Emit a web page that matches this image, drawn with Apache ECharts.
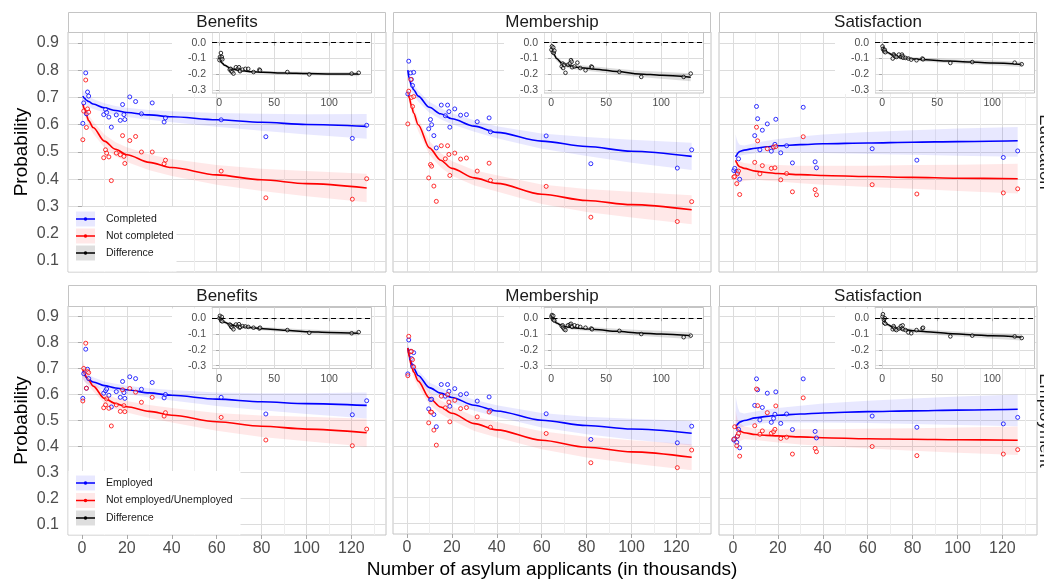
<!DOCTYPE html>
<html><head><meta charset="utf-8">
<script src="https://cdn.jsdelivr.net/npm/echarts@6/dist/echarts.min.js"></script>
<style>html,body{margin:0;padding:0;background:#fff}#main{width:1044px;height:580px}</style>
</head><body><div id="main"></div>
<script>
// ---------- labels / ticks ----------
const OUTCOMES = ['Benefits', 'Membership', 'Satisfaction'];
const ROW_LABELS = ['Education', 'Employment'];
const EDU_GROUPS = ['Completed', 'Not completed'];
const EMP_GROUPS = ['Employed', 'Not employed/Unemployed'];
const DIFF_NAME = 'Difference';
const X_TITLE = 'Number of asylum applicants (in thousands)';
const Y_TITLE = 'Probability';
const X_TICKS = [0, 20, 40, 60, 80, 100, 120];
const X_MINOR = [10, 30, 50, 70, 90, 110, 130];
const Y_TICKS = [0.1, 0.2, 0.3, 0.4, 0.5, 0.6, 0.7, 0.8, 0.9];
const INSET_X_TICKS = [0, 50, 100];
const INSET_X_MINOR = [25, 75, 125];
const INSET_Y_TICKS = [0, -0.1, -0.2, -0.3];

// ---------- x values ----------
const X_POINTS = [0.4, 0.8, 1.7, 2.0, 2.5, 3.0, 9.7, 10.5, 11.0, 12.0, 13.1, 15.3, 17.1, 18.1, 18.7, 19.1, 21.3, 23.9, 26.5, 31.3, 36.6, 37.2, 62.0, 81.9, 120.4, 126.8];
const X_FIT = [0.4, 1, 2, 3, 5, 10, 15, 20, 30, 40, 60, 80, 100, 126.8];
const X_FIT_SAT = [1.2, 1.6, 2.2, 3, 5, 10, 15, 20, 30, 40, 60, 80, 100, 126.8];

// ---------- Education / Benefits ----------
const eduBenCompPts = [0.605, 0.68, 0.79, 0.64, 0.72, 0.705, 0.637, 0.656, 0.645, 0.628, 0.591, 0.636, 0.616, 0.674, 0.637, 0.619, 0.702, 0.685, 0.64, 0.68, 0.61, 0.625, 0.618, 0.556, 0.55, 0.598];
const eduBenNotPts = [0.545, 0.65, 0.764, 0.59, 0.658, 0.646, 0.479, 0.508, 0.496, 0.482, 0.395, 0.496, 0.49, 0.56, 0.484, 0.458, 0.542, 0.557, 0.5, 0.5, 0.457, 0.47, 0.43, 0.332, 0.327, 0.402];
const eduBenDiffPts = [-0.11, -0.09, -0.065, -0.1, -0.09, -0.105, -0.17, -0.165, -0.18, -0.185, -0.195, -0.155, -0.165, -0.155, -0.175, -0.18, -0.17, -0.165, -0.165, -0.185, -0.17, -0.175, -0.185, -0.2, -0.195, -0.19];
const eduBenCompFit = [0.705, 0.698, 0.69, 0.685, 0.676, 0.662, 0.652, 0.645, 0.636, 0.629, 0.618, 0.609, 0.601, 0.594];
const eduBenCompLo = [0.68, 0.676, 0.67, 0.666, 0.658, 0.645, 0.635, 0.628, 0.618, 0.609, 0.593, 0.578, 0.564, 0.549];
const eduBenCompHi = [0.73, 0.72, 0.71, 0.704, 0.694, 0.679, 0.669, 0.662, 0.654, 0.649, 0.643, 0.64, 0.638, 0.639];
const eduBenNotFit = [0.676, 0.66, 0.635, 0.615, 0.59, 0.54, 0.51, 0.49, 0.462, 0.443, 0.416, 0.398, 0.384, 0.368];
const eduBenNotLo = [0.656, 0.64, 0.615, 0.594, 0.568, 0.516, 0.484, 0.463, 0.433, 0.412, 0.38, 0.357, 0.338, 0.316];
const eduBenNotHi = [0.696, 0.68, 0.655, 0.636, 0.612, 0.564, 0.536, 0.517, 0.491, 0.474, 0.452, 0.439, 0.43, 0.42];
const eduBenDiffFit = [-0.11, -0.115, -0.122, -0.13, -0.143, -0.16, -0.17, -0.176, -0.183, -0.187, -0.192, -0.195, -0.197, -0.198];
const eduBenDiffLo = [-0.122, -0.126, -0.132, -0.14, -0.152, -0.169, -0.179, -0.185, -0.192, -0.196, -0.202, -0.206, -0.209, -0.211];
const eduBenDiffHi = [-0.098, -0.104, -0.112, -0.12, -0.134, -0.151, -0.161, -0.167, -0.174, -0.178, -0.182, -0.184, -0.185, -0.185];

// ---------- Education / Membership ----------
const eduMemCompPts = [0.713, 0.833, 0.79, 0.766, 0.744, 0.792, 0.585, 0.619, 0.6, 0.56, 0.515, 0.672, 0.633, 0.672, 0.648, 0.591, 0.658, 0.635, 0.637, 0.611, 0.625, 0.574, 0.559, 0.457, 0.441, 0.508];
const eduMemNotPts = [0.603, 0.723, 0.766, 0.70, 0.667, 0.703, 0.405, 0.454, 0.448, 0.375, 0.319, 0.523, 0.475, 0.523, 0.491, 0.414, 0.496, 0.474, 0.478, 0.43, 0.459, 0.396, 0.374, 0.261, 0.245, 0.318];
const eduMemDiffPts = [-0.045, -0.023, -0.06, -0.03, -0.065, -0.05, -0.15, -0.132, -0.16, -0.14, -0.19, -0.14, -0.13, -0.11, -0.12, -0.155, -0.15, -0.126, -0.16, -0.174, -0.15, -0.155, -0.184, -0.216, -0.216, -0.195];
const eduMemCompFit = [0.80, 0.77, 0.745, 0.728, 0.705, 0.664, 0.64, 0.622, 0.595, 0.572, 0.54, 0.52, 0.503, 0.484];
const eduMemCompLo = [0.78, 0.75, 0.725, 0.708, 0.685, 0.644, 0.62, 0.602, 0.574, 0.55, 0.512, 0.485, 0.461, 0.434];
const eduMemCompHi = [0.82, 0.79, 0.765, 0.748, 0.725, 0.684, 0.66, 0.642, 0.616, 0.594, 0.568, 0.555, 0.545, 0.534];
const eduMemNotFit = [0.72, 0.70, 0.67, 0.643, 0.6, 0.515, 0.47, 0.44, 0.405, 0.385, 0.345, 0.322, 0.307, 0.288];
const eduMemNotLo = [0.70, 0.68, 0.649, 0.621, 0.577, 0.49, 0.444, 0.413, 0.377, 0.355, 0.309, 0.28, 0.26, 0.235];
const eduMemNotHi = [0.74, 0.72, 0.691, 0.665, 0.623, 0.54, 0.496, 0.467, 0.433, 0.415, 0.381, 0.364, 0.354, 0.341];
const eduMemDiffFit = [-0.03, -0.04, -0.06, -0.078, -0.1, -0.13, -0.143, -0.152, -0.16, -0.167, -0.182, -0.197, -0.206, -0.218];
const eduMemDiffLo = [-0.045, -0.055, -0.075, -0.093, -0.115, -0.145, -0.158, -0.167, -0.176, -0.184, -0.2, -0.217, -0.228, -0.243];
const eduMemDiffHi = [-0.015, -0.025, -0.045, -0.063, -0.085, -0.115, -0.128, -0.137, -0.144, -0.15, -0.164, -0.177, -0.184, -0.193];

// ---------- Education / Satisfaction ----------
const eduSatCompPts = [0.432, 0.44, 0.428, 0.423, 0.475, 0.40, 0.56, 0.667, 0.622, 0.508, 0.58, 0.603, 0.503, 0.518, 0.528, 0.62, 0.497, 0.523, 0.46, 0.664, 0.464, 0.442, 0.512, 0.47, 0.48, 0.504];
const eduSatNotPts = [0.408, 0.41, 0.384, 0.42, 0.43, 0.344, 0.462, 0.591, 0.541, 0.42, 0.45, 0.512, 0.44, 0.518, 0.442, 0.52, 0.398, 0.421, 0.354, 0.556, 0.362, 0.343, 0.38, 0.346, 0.35, 0.365];
const eduSatDiffPts = [-0.023, -0.04, -0.048, -0.055, -0.045, -0.06, -0.1, -0.073, -0.08, -0.086, -0.09, -0.075, -0.09, -0.075, -0.085, -0.095, -0.096, -0.1, -0.107, -0.111, -0.1, -0.105, -0.128, -0.122, -0.126, -0.136];
const eduSatCompFit = [0.482, 0.488, 0.496, 0.502, 0.507, 0.514, 0.519, 0.523, 0.527, 0.53, 0.533, 0.536, 0.538, 0.541];
const eduSatCompLo = [0.472, 0.476, 0.481, 0.486, 0.49, 0.495, 0.497, 0.498, 0.497, 0.496, 0.493, 0.49, 0.486, 0.483];
const eduSatCompHi = [0.565, 0.55, 0.536, 0.527, 0.524, 0.533, 0.541, 0.548, 0.557, 0.564, 0.573, 0.58, 0.586, 0.592];
const eduSatNotFit = [0.47, 0.462, 0.452, 0.446, 0.44, 0.43, 0.425, 0.421, 0.417, 0.414, 0.41, 0.407, 0.404, 0.402];
const eduSatNotLo = [0.36, 0.37, 0.38, 0.388, 0.394, 0.398, 0.395, 0.392, 0.385, 0.38, 0.372, 0.365, 0.357, 0.348];
const eduSatNotHi = [0.487, 0.48, 0.472, 0.466, 0.46, 0.455, 0.455, 0.452, 0.45, 0.45, 0.45, 0.452, 0.453, 0.457];
const eduSatDiffFit = [-0.02, -0.03, -0.042, -0.05, -0.062, -0.08, -0.09, -0.096, -0.103, -0.108, -0.116, -0.122, -0.128, -0.137];
const eduSatDiffLo = [-0.032, -0.041, -0.053, -0.061, -0.073, -0.091, -0.101, -0.107, -0.114, -0.12, -0.129, -0.136, -0.143, -0.153];
const eduSatDiffHi = [-0.008, -0.019, -0.031, -0.039, -0.051, -0.069, -0.079, -0.085, -0.092, -0.096, -0.103, -0.108, -0.113, -0.121];

// ---------- Employment / Benefits ----------
const empBenEmpPts = [0.585, 0.68, 0.774, 0.624, 0.697, 0.661, 0.605, 0.614, 0.621, 0.597, 0.552, 0.611, 0.589, 0.65, 0.607, 0.585, 0.668, 0.661, 0.62, 0.646, 0.587, 0.6, 0.589, 0.525, 0.522, 0.576];
const empBenNotPts = [0.575, 0.70, 0.797, 0.624, 0.688, 0.684, 0.549, 0.56, 0.583, 0.547, 0.479, 0.56, 0.535, 0.618, 0.557, 0.534, 0.623, 0.609, 0.57, 0.589, 0.517, 0.53, 0.512, 0.425, 0.403, 0.467];
const empBenDiffPts = [0.0, 0.015, -0.005, -0.017, 0.008, -0.02, -0.04, -0.045, -0.055, -0.06, -0.07, -0.04, -0.05, -0.038, -0.06, -0.055, -0.05, -0.052, -0.055, -0.06, -0.065, -0.06, -0.075, -0.092, -0.095, -0.088];
const empBenEmpFit = [0.688, 0.678, 0.665, 0.657, 0.648, 0.634, 0.625, 0.618, 0.606, 0.597, 0.582, 0.572, 0.565, 0.558];
const empBenEmpLo = [0.658, 0.651, 0.643, 0.637, 0.63, 0.618, 0.609, 0.602, 0.588, 0.577, 0.556, 0.539, 0.525, 0.508];
const empBenEmpHi = [0.718, 0.705, 0.687, 0.677, 0.666, 0.65, 0.641, 0.634, 0.624, 0.617, 0.608, 0.605, 0.605, 0.608];
const empBenNotFit = [0.698, 0.683, 0.666, 0.655, 0.632, 0.585, 0.565, 0.553, 0.535, 0.52, 0.495, 0.478, 0.467, 0.453];
const empBenNotLo = [0.663, 0.653, 0.641, 0.633, 0.612, 0.565, 0.544, 0.531, 0.51, 0.492, 0.461, 0.437, 0.42, 0.399];
const empBenNotHi = [0.733, 0.713, 0.691, 0.677, 0.652, 0.605, 0.586, 0.575, 0.56, 0.548, 0.529, 0.519, 0.514, 0.507];
const empBenDiffFit = [0.0, -0.005, -0.013, -0.018, -0.026, -0.04, -0.047, -0.052, -0.06, -0.066, -0.076, -0.085, -0.09, -0.095];
const empBenDiffLo = [-0.012, -0.016, -0.023, -0.028, -0.036, -0.05, -0.057, -0.062, -0.07, -0.077, -0.088, -0.098, -0.104, -0.11];
const empBenDiffHi = [0.012, 0.006, -0.003, -0.008, -0.016, -0.03, -0.037, -0.042, -0.05, -0.055, -0.064, -0.072, -0.076, -0.08];

// ---------- Employment / Membership ----------
const empMemEmpPts = [0.678, 0.809, 0.765, 0.737, 0.707, 0.76, 0.543, 0.579, 0.58, 0.521, 0.474, 0.637, 0.592, 0.637, 0.611, 0.553, 0.621, 0.598, 0.601, 0.573, 0.589, 0.537, 0.524, 0.425, 0.412, 0.476];
const empMemNotPts = [0.671, 0.823, 0.763, 0.765, 0.733, 0.705, 0.489, 0.531, 0.53, 0.461, 0.403, 0.592, 0.547, 0.598, 0.569, 0.493, 0.576, 0.544, 0.548, 0.512, 0.531, 0.472, 0.448, 0.335, 0.316, 0.384];
const empMemDiffPts = [0.01, 0.02, -0.005, 0.015, -0.01, -0.015, -0.05, -0.045, -0.06, -0.07, -0.075, -0.045, -0.04, -0.035, -0.05, -0.055, -0.045, -0.05, -0.055, -0.06, -0.065, -0.07, -0.08, -0.1, -0.12, -0.11];
const empMemEmpFit = [0.778, 0.75, 0.72, 0.7, 0.672, 0.625, 0.604, 0.587, 0.557, 0.535, 0.499, 0.479, 0.465, 0.449];
const empMemEmpLo = [0.758, 0.73, 0.70, 0.68, 0.652, 0.605, 0.584, 0.567, 0.536, 0.513, 0.471, 0.445, 0.425, 0.402];
const empMemEmpHi = [0.798, 0.77, 0.74, 0.72, 0.692, 0.645, 0.624, 0.607, 0.578, 0.557, 0.527, 0.513, 0.505, 0.496];
const empMemNotFit = [0.778, 0.745, 0.71, 0.685, 0.65, 0.585, 0.55, 0.526, 0.486, 0.462, 0.422, 0.395, 0.377, 0.356];
const empMemNotLo = [0.758, 0.725, 0.689, 0.663, 0.627, 0.56, 0.524, 0.499, 0.458, 0.432, 0.387, 0.355, 0.332, 0.306];
const empMemNotHi = [0.798, 0.765, 0.731, 0.707, 0.673, 0.61, 0.576, 0.553, 0.514, 0.492, 0.457, 0.435, 0.422, 0.406];
const empMemDiffFit = [0.008, 0.0, -0.01, -0.018, -0.03, -0.048, -0.055, -0.06, -0.066, -0.072, -0.083, -0.093, -0.1, -0.11];
const empMemDiffLo = [-0.004, -0.012, -0.022, -0.03, -0.042, -0.06, -0.068, -0.073, -0.08, -0.087, -0.1, -0.111, -0.12, -0.131];
const empMemDiffHi = [0.02, 0.012, 0.002, -0.006, -0.018, -0.036, -0.042, -0.047, -0.052, -0.057, -0.066, -0.075, -0.08, -0.089];

// ---------- Employment / Satisfaction ----------
const empSatEmpPts = [0.425, 0.43, 0.416, 0.44, 0.466, 0.395, 0.558, 0.66, 0.618, 0.502, 0.55, 0.605, 0.493, 0.508, 0.524, 0.61, 0.489, 0.525, 0.465, 0.66, 0.458, 0.433, 0.517, 0.474, 0.487, 0.512];
const empSatNotPts = [0.428, 0.476, 0.403, 0.44, 0.45, 0.363, 0.48, 0.621, 0.557, 0.447, 0.46, 0.53, 0.451, 0.457, 0.466, 0.556, 0.431, 0.436, 0.371, 0.587, 0.393, 0.38, 0.4, 0.365, 0.371, 0.388];
const empSatDiffPts = [0.01, 0.025, -0.01, -0.03, 0.0, -0.035, -0.07, -0.05, -0.06, -0.07, -0.075, -0.065, -0.05, -0.065, -0.045, -0.07, -0.075, -0.09, -0.095, -0.075, -0.065, -0.06, -0.115, -0.11, -0.115, -0.125];
const empSatEmpFit = [0.478, 0.481, 0.487, 0.494, 0.5, 0.51, 0.516, 0.52, 0.525, 0.529, 0.534, 0.537, 0.54, 0.543];
const empSatEmpLo = [0.455, 0.46, 0.466, 0.472, 0.478, 0.486, 0.49, 0.492, 0.492, 0.492, 0.49, 0.487, 0.483, 0.478];
const empSatEmpHi = [0.595, 0.575, 0.55, 0.532, 0.527, 0.535, 0.542, 0.548, 0.557, 0.565, 0.576, 0.585, 0.592, 0.6];
const empSatNotFit = [0.478, 0.474, 0.466, 0.46, 0.453, 0.446, 0.443, 0.441, 0.437, 0.434, 0.43, 0.428, 0.426, 0.424];
const empSatNotLo = [0.365, 0.385, 0.405, 0.42, 0.428, 0.425, 0.42, 0.415, 0.408, 0.402, 0.392, 0.384, 0.376, 0.367];
const empSatNotHi = [0.54, 0.52, 0.5, 0.49, 0.478, 0.468, 0.466, 0.466, 0.466, 0.466, 0.468, 0.47, 0.473, 0.477];
const empSatDiffFit = [0.008, -0.002, -0.018, -0.028, -0.04, -0.058, -0.066, -0.072, -0.08, -0.086, -0.096, -0.104, -0.111, -0.12];
const empSatDiffLo = [-0.006, -0.015, -0.03, -0.039, -0.051, -0.069, -0.078, -0.084, -0.093, -0.1, -0.111, -0.12, -0.129, -0.14];
const empSatDiffHi = [0.022, 0.011, -0.006, -0.017, -0.029, -0.047, -0.054, -0.06, -0.067, -0.072, -0.081, -0.088, -0.093, -0.1];

// ---------- panel table ----------
const PANELS = [
  {r:0,c:0,g:EDU_GROUPS,fx:X_FIT,a:eduBenCompPts,b:eduBenNotPts,d:eduBenDiffPts,
   aF:eduBenCompFit,aL:eduBenCompLo,aH:eduBenCompHi,bF:eduBenNotFit,bL:eduBenNotLo,bH:eduBenNotHi,dF:eduBenDiffFit,dL:eduBenDiffLo,dH:eduBenDiffHi},
  {r:0,c:1,g:EDU_GROUPS,fx:X_FIT,a:eduMemCompPts,b:eduMemNotPts,d:eduMemDiffPts,
   aF:eduMemCompFit,aL:eduMemCompLo,aH:eduMemCompHi,bF:eduMemNotFit,bL:eduMemNotLo,bH:eduMemNotHi,dF:eduMemDiffFit,dL:eduMemDiffLo,dH:eduMemDiffHi},
  {r:0,c:2,g:EDU_GROUPS,fx:X_FIT_SAT,a:eduSatCompPts,b:eduSatNotPts,d:eduSatDiffPts,
   aF:eduSatCompFit,aL:eduSatCompLo,aH:eduSatCompHi,bF:eduSatNotFit,bL:eduSatNotLo,bH:eduSatNotHi,dF:eduSatDiffFit,dL:eduSatDiffLo,dH:eduSatDiffHi},
  {r:1,c:0,g:EMP_GROUPS,fx:X_FIT,a:empBenEmpPts,b:empBenNotPts,d:empBenDiffPts,
   aF:empBenEmpFit,aL:empBenEmpLo,aH:empBenEmpHi,bF:empBenNotFit,bL:empBenNotLo,bH:empBenNotHi,dF:empBenDiffFit,dL:empBenDiffLo,dH:empBenDiffHi},
  {r:1,c:1,g:EMP_GROUPS,fx:X_FIT,a:empMemEmpPts,b:empMemNotPts,d:empMemDiffPts,
   aF:empMemEmpFit,aL:empMemEmpLo,aH:empMemEmpHi,bF:empMemNotFit,bL:empMemNotLo,bH:empMemNotHi,dF:empMemDiffFit,dL:empMemDiffLo,dH:empMemDiffHi},
  {r:1,c:2,g:EMP_GROUPS,fx:X_FIT_SAT,a:empSatEmpPts,b:empSatNotPts,d:empSatDiffPts,
   aF:empSatEmpFit,aL:empSatEmpLo,aH:empSatEmpHi,bF:empSatNotFit,bL:empSatNotLo,bH:empSatNotHi,dF:empSatDiffFit,dL:empSatDiffLo,dH:empSatDiffHi}
];

// ---------- layout / style ----------
const FONT = '"Liberation Sans", Arial, sans-serif';
const PANEL_LEFT = [68, 393, 719], PANEL_W = 318;
const ROW_TOP = [32, 306], ROW_H = [240, 229];
const STRIP_Y = [12, 285], STRIP_H = [20, 21];
const INSET_LEFT = [212, 544, 875], INSET_W = 159.5, INSET_TOP = [32, 307.5], INSET_H = 61;
const X_RANGE = [-6.2, 135.4], Y_RANGE = [0.06, 0.94];
const IX_RANGE = [-6.4, 138.4], IY_RANGE = [-0.3175, 0.0675];
const BLUE = '#0000ff', RED = '#ff0000', BLACK = '#000000';
const BLUE_BAND = 'rgba(0,0,255,0.09)', RED_BAND = 'rgba(255,0,0,0.09)', GREY_BAND = 'rgba(0,0,0,0.13)';
const GRID_MAJOR = '#dcdcdc', GRID_MINOR = '#eeeeee', BORDER = '#c4c4c4', TICK = '#a8a8a8', TICK_TEXT = '#4d4d4d';

const grids = [], xAxes = [], yAxes = [], series = [], gfx = [];

function pairs(xs, ys) { return xs.map((x, i) => [x, ys[i]]); }

function band(name, xi, yi, xs, lo, hi, color, z) {
  return {
    type: 'custom', name, xAxisIndex: xi, yAxisIndex: yi, z, silent: true,
    data: xs.map((x, i) => [x, lo[i], hi[i]]),
    encode: { x: 0, y: [1, 2] },
    renderItem: (params, api) => {
      if (params.dataIndex !== 0) return null;
      const pts = [];
      for (let i = 0; i < xs.length; i++) pts.push(api.coord([xs[i], hi[i]]));
      for (let i = xs.length - 1; i >= 0; i--) pts.push(api.coord([xs[i], lo[i]]));
      return { type: 'polygon', shape: { points: pts }, style: { fill: color }, silent: true };
    }
  };
}
function fitLine(name, xi, yi, xs, ys, color, z, extra) {
  return Object.assign({
    type: 'line', name, xAxisIndex: xi, yAxisIndex: yi, z, data: pairs(xs, ys),
    showSymbol: false, symbol: 'none', smooth: 0.3, smoothMonotone: 'x',
    lineStyle: { color, width: 1.6 }, itemStyle: { color }, silent: true
  }, extra || {});
}
function points(name, xi, yi, ys, color, z, size) {
  return {
    type: 'scatter', name, xAxisIndex: xi, yAxisIndex: yi, z, data: pairs(X_POINTS, ys),
    symbol: 'circle', symbolSize: size, silent: true,
    itemStyle: { color: 'rgba(255,255,255,0.55)', borderColor: color, borderWidth: 1, opacity: 0.8 }
  };
}

PANELS.forEach(p => {
  const { r, c } = p;
  // ----- main panel -----
  const gi = grids.length;
  grids.push({ left: PANEL_LEFT[c], top: ROW_TOP[r], width: PANEL_W, height: ROW_H[r],
    show: true, borderColor: BORDER, borderWidth: 1, backgroundColor: 'transparent', containLabel: false });
  const showX = r === 1, showY = c === 0;
  const xi = xAxes.length;
  xAxes.push({
    gridIndex: gi, type: 'value', position: 'bottom', min: X_RANGE[0], max: X_RANGE[1],
    axisLine: { show: false },
    axisTick: { show: showX, customValues: X_TICKS, length: 4, lineStyle: { color: TICK } },
    axisLabel: { show: showX, customValues: X_TICKS, fontSize: 16, color: TICK_TEXT, margin: 6, fontFamily: FONT },
    splitLine: { show: true, lineStyle: { color: GRID_MAJOR, width: 1 } },
    name: (r === 1 && c === 1) ? X_TITLE : '', nameLocation: 'middle', nameGap: 26,
    nameTextStyle: { fontSize: 19, color: '#000', fontFamily: FONT }
  });
  xAxes.push({
    gridIndex: gi, type: 'value', position: 'bottom', min: X_RANGE[0], max: X_RANGE[1],
    axisLine: { show: false }, axisLabel: { show: false },
    axisTick: { show: false, customValues: X_MINOR },
    splitLine: { show: true, lineStyle: { color: GRID_MINOR, width: 1 } }
  });
  const yi = yAxes.length;
  yAxes.push({
    gridIndex: gi, type: 'value', min: Y_RANGE[0], max: Y_RANGE[1],
    axisLine: { show: false },
    axisTick: { show: showY, customValues: Y_TICKS, length: 4, lineStyle: { color: TICK } },
    axisLabel: { show: showY, customValues: Y_TICKS, fontSize: 16, color: TICK_TEXT, margin: 9,
      fontFamily: FONT, formatter: v => v.toFixed(1) },
    splitLine: { show: true, lineStyle: { color: GRID_MAJOR, width: 1 } },
    name: showY ? Y_TITLE : '', nameLocation: 'middle', nameRotate: 90, nameGap: 37,
    nameTextStyle: { fontSize: 19, color: '#000', fontFamily: FONT }
  });
  const [ga, gb] = p.g;
  series.push(band(ga, xi, yi, p.fx, p.aL, p.aH, BLUE_BAND, 2));
  series.push(band(gb, xi, yi, p.fx, p.bL, p.bH, RED_BAND, 2));
  series.unshift(fitLine(gb, xi, yi, p.fx, p.bF, RED, 2));
  series.unshift(fitLine(ga, xi, yi, p.fx, p.aF, BLUE, 2));
  series.push(points(ga, xi, yi, p.a, BLUE, 3, 4));
  series.push(points(gb, xi, yi, p.b, RED, 3, 4));

  // ----- inset -----
  const ig = grids.length;
  grids.push({ left: INSET_LEFT[c], top: INSET_TOP[r], width: INSET_W, height: INSET_H,
    show: true, borderColor: BORDER, borderWidth: 1, backgroundColor: '#ffffff', z: 2, containLabel: false });
  const ixi = xAxes.length;
  xAxes.push({
    gridIndex: ig, type: 'value', position: 'bottom', min: IX_RANGE[0], max: IX_RANGE[1], z: 3,
    axisLine: { show: false },
    axisTick: { show: true, customValues: INSET_X_TICKS, length: 3, lineStyle: { color: TICK } },
    axisLabel: { show: true, customValues: INSET_X_TICKS, fontSize: 10.5, color: TICK_TEXT, margin: 5, fontFamily: FONT },
    splitLine: { show: true, lineStyle: { color: GRID_MAJOR, width: 1 } }
  });
  xAxes.push({
    gridIndex: ig, type: 'value', position: 'bottom', min: IX_RANGE[0], max: IX_RANGE[1], z: 3,
    axisLine: { show: false }, axisLabel: { show: false },
    axisTick: { show: false, customValues: INSET_X_MINOR },
    splitLine: { show: true, lineStyle: { color: GRID_MINOR, width: 1 } }
  });
  const iyi = yAxes.length;
  yAxes.push({
    gridIndex: ig, type: 'value', min: IY_RANGE[0], max: IY_RANGE[1], z: 3,
    axisLine: { show: false },
    axisTick: { show: true, customValues: INSET_Y_TICKS, length: 3, lineStyle: { color: TICK } },
    axisLabel: { show: true, customValues: INSET_Y_TICKS, fontSize: 10.5, color: TICK_TEXT, margin: 6,
      fontFamily: FONT, formatter: v => v.toFixed(1) },
    splitLine: { show: true, lineStyle: { color: GRID_MAJOR, width: 1 } }
  });
  series.push(band(DIFF_NAME, ixi, iyi, p.fx, p.dL, p.dH, GREY_BAND, 4));
  series.push(fitLine(DIFF_NAME, ixi, iyi, p.fx, p.dF, BLACK, 4, {
    lineStyle: { color: BLACK, width: 1.5 },
    markLine: { silent: true, symbol: ['none', 'none'], label: { show: false },
      lineStyle: { color: BLACK, type: [5, 3.5], width: 1.2 }, data: [{ yAxis: 0 }] }
  }));
  series.push(points(DIFF_NAME, ixi, iyi, p.d, BLACK, 4, 3.6));

  // white area behind inset tick labels
  gfx.push({ type: 'rect', z: 2, silent: true,
    shape: { x: INSET_LEFT[c] - 40, y: INSET_TOP[r] + 1, width: 40, height: INSET_H },
    style: { fill: '#ffffff' } });
});

// the difference line must be first among 'Difference' series for the legend icon
const diffLines = series.filter(s => s.name === DIFF_NAME && s.type === 'line');
const others = series.filter(s => !(s.name === DIFF_NAME && s.type === 'line'));
const allSeries = diffLines.concat(others);

// strips
for (let r = 0; r < 2; r++) {
  for (let c = 0; c < 3; c++) {
    gfx.push({ type: 'rect', z: 2, silent: true,
      shape: { x: PANEL_LEFT[c] + 0.5, y: STRIP_Y[r] + 0.5, width: PANEL_W - 1, height: STRIP_H[r] },
      style: { fill: '#ffffff', stroke: BORDER, lineWidth: 1 } });
    gfx.push({ type: 'text', z: 3, silent: true,
      style: { text: OUTCOMES[c], x: PANEL_LEFT[c] + PANEL_W / 2, y: STRIP_Y[r] + STRIP_H[r] / 2 + 0.5,
        align: 'center', verticalAlign: 'middle', fontSize: 17, fontFamily: FONT, fill: '#1a1a1a' } });
  }
  gfx.push({ type: 'text', z: 3, silent: true, x: 1044.5, y: ROW_TOP[r] + ROW_H[r] / 2, rotation: -Math.PI / 2,
    style: { text: ROW_LABELS[r], x: 0, y: 0, align: 'center', verticalAlign: 'middle',
      fontSize: 17, fontFamily: FONT, fill: '#1a1a1a' } });
}

// legend backgrounds and key fills
const LEG_TOP = [211.5, 475.5], LEG_GAP = [2, 2.5], LEG_BOX_W = [108, 172];
for (let r = 0; r < 2; r++) {
  gfx.push({ type: 'rect', z: 3, silent: true,
    shape: { x: 68.5, y: LEG_TOP[r] - 4.5, width: LEG_BOX_W[r], height: ROW_TOP[r] + ROW_H[r] - LEG_TOP[r] + 4 },
    style: { fill: '#ffffff' } });
  [BLUE_BAND, RED_BAND, GREY_BAND].forEach((f, k) => {
    gfx.push({ type: 'rect', z: 4, silent: true,
      shape: { x: 76, y: LEG_TOP[r] + k * (15 + LEG_GAP[r]), width: 19, height: 15 },
      style: { fill: f } });
  });
}

// key glyph: line with a small dot; tiny corner specks make its box the full 19x15 key
const LEG_ICON = 'path://M0,0L0.01,0L0,0.01Z M19,15L18.99,15L19,14.99Z M0,6.8L19,6.8L19,8.2L0,8.2Z M11.3,7.5A1.8,1.8,0,1,1,7.7,7.5A1.8,1.8,0,1,1,11.3,7.5Z';
function legendFor(r, names) {
  return {
    data: names, orient: 'vertical', left: 76, top: LEG_TOP[r], itemWidth: 19, itemHeight: 15,
    itemGap: LEG_GAP[r], icon: LEG_ICON, z: 6, selectedMode: false, padding: 0,
    textStyle: { fontSize: 10.5, color: '#1a1a1a', fontFamily: FONT, padding: [0, 0, 0, 6] }
  };
}

const chart = echarts.init(document.getElementById('main'), null, { renderer: 'canvas' });
chart.setOption({
  animation: false,
  backgroundColor: '#ffffff',
  textStyle: { fontFamily: FONT },
  grid: grids, xAxis: xAxes, yAxis: yAxes,
  legend: [legendFor(0, EDU_GROUPS.concat([DIFF_NAME])), legendFor(1, EMP_GROUPS.concat([DIFF_NAME]))],
  graphic: { elements: gfx },
  series: allSeries
});
</script></body></html>
